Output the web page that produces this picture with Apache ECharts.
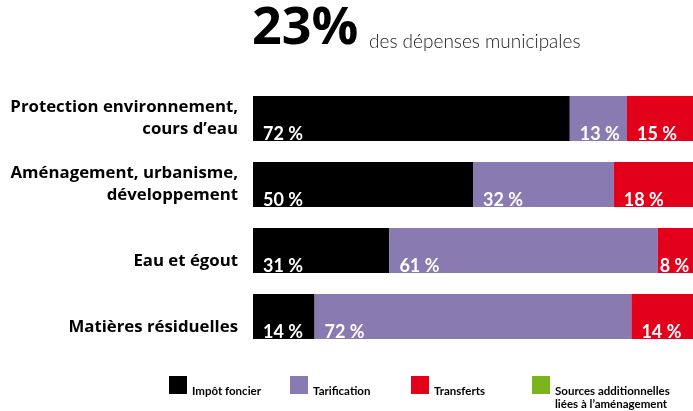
<!DOCTYPE html>
<html>
<head>
<meta charset="utf-8">
<script src="https://cdn.jsdelivr.net/npm/echarts@6/dist/echarts.min.js"></script>
<style>
  html, body { margin: 0; padding: 0; background: #fff; }
  #chart { width: 693px; height: 411px; }
</style>
</head>
<body>
<div id="chart"></div>
<script>
// catégories (les libellés sur une ligne sont calés sur la 2e ligne)
var categories = [
  'Protection environnement,\ncours d\u2019eau',
  'Aménagement, urbanisme,\ndéveloppement',
  'Eau et égout',
  'Matières résiduelles'
];
var seriesNames = ['Impôt foncier', 'Tarification', 'Transferts', 'Sources additionnelles\nliées à l\u2019aménagement'];
var impotFoncier = [72, 50, 31, 14];
var tarification = [13, 32, 61, 72];
var transferts = [15, 18, 8, 14];
var sourcesAdd = [0, 0, 0, 0];
var colors = ['#000000', '#8a7ab2', '#e2001a', '#7ab51d'];

var lato = 'Lato, "Open Sans", sans-serif';
var openSans = '"Open Sans", Lato, sans-serif';

function makeSeries(name, values, color) {
  return {
    name: name,
    type: 'bar',
    stack: 'total',
    barWidth: 45,
    itemStyle: { color: color },
    data: values.map(function (v) {
      return {
        value: v,
        label: {
          show: v > 0,
          distance: v < 10 ? 2 : 10   // petite part : étiquette collée
        }
      };
    }),
    label: {
      position: 'insideLeft',
      offset: [0, 16],
      formatter: '{c} %',
      color: '#fff',
      fontFamily: lato,
      fontWeight: 'bold',
      fontSize: 18
    }
  };
}

// pousse le texte de légende vers le bas du carré
function legendText(name) {
  var n = name.split('\n').length;
  return new Array(n + 1).join('\n') + name;
}

var myChart = echarts.init(document.getElementById('chart'));
var option = {
  animation: false,
  title: [
    {
      text: '23%',
      left: 252,
      top: 3,
      padding: 0,
      textStyle: { fontFamily: openSans, fontWeight: 'bold', fontSize: 52, color: '#000' }
    },
    {
      text: 'des dépenses municipales',
      left: 369,
      top: 32,
      padding: 0,
      textStyle: { fontFamily: lato, fontWeight: 300, fontSize: 19, color: '#1a1a1a' }
    }
  ],
  grid: { left: 253, right: 0, top: 85.5, height: 264 },
  xAxis: { type: 'value', min: 0, max: 100, show: false },
  yAxis: {
    type: 'category',
    inverse: true,
    data: categories,
    axisLine: { show: false },
    axisTick: { show: false },
    axisLabel: {
      margin: 15,
      color: '#000',
      fontFamily: openSans,
      fontWeight: 'bold',
      fontSize: 16.8,
      lineHeight: 22,
      formatter: function (v) {
        return v.indexOf('\n') < 0 ? '\n' + v : v;
      }
    }
  },
  legend: {
    left: 169,
    top: 359,
    padding: 0,
    orient: 'horizontal',
    icon: 'rect',
    itemWidth: 18,
    itemHeight: 18,
    itemGap: 0,
    selectedMode: false,
    formatter: legendText,
    textStyle: {
      fontFamily: lato,
      fontWeight: 'bold',
      fontSize: 11.5,
      lineHeight: 13,
      color: '#000',
      width: 98
    },
    data: seriesNames
  },
  color: colors,
  series: [
    makeSeries(seriesNames[0], impotFoncier, colors[0]),
    makeSeries(seriesNames[1], tarification, colors[1]),
    makeSeries(seriesNames[2], transferts, colors[2]),
    makeSeries(seriesNames[3], sourcesAdd, colors[3])
  ]
};
myChart.setOption(option);
</script>
</body>
</html>
